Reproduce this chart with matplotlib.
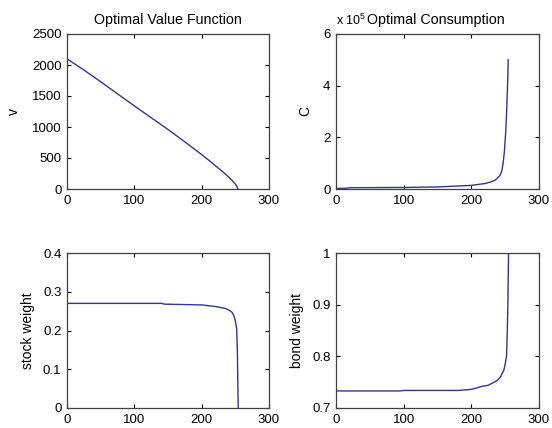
import numpy as np
import matplotlib
matplotlib.use("Agg")
import matplotlib.pyplot as plt
from matplotlib.ticker import FuncFormatter

plt.rcParams['font.family'] = ['Liberation Sans', 'DejaVu Sans']
plt.rcParams['mathtext.fontset'] = 'custom'
plt.rcParams['mathtext.rm'] = 'Liberation Sans'

# Optimal value function
v_x = [0, 25, 50, 75, 100, 125, 150, 175, 200, 215, 230, 240, 245, 250, 252, 254]
v_y = [2100, 1920, 1730, 1535, 1340, 1150, 960, 760, 555, 425, 290, 195, 140, 80, 45, 0]

# Optimal consumption
c_x = [0, 15, 20, 60, 100, 150, 200, 220, 227, 235, 242, 245, 247, 249, 251, 252, 253, 254, 254.5]
c_y = [0.02e5, 0.03e5, 0.05e5, 0.055e5, 0.06e5, 0.08e5, 0.14e5, 0.21e5, 0.26e5, 0.34e5,
       0.51e5, 0.7e5, 1.0e5, 1.5e5, 2.3e5, 2.9e5, 3.6e5, 4.4e5, 5.0e5]

# Stock weight
s_x = [0, 140, 145, 200, 210, 220, 235, 240, 245, 248, 250, 252, 253, 253.5, 254, 254.3]
s_y = [0.270, 0.270, 0.268, 0.266, 0.264, 0.262, 0.257, 0.253, 0.247, 0.238, 0.225, 0.204,
       0.15, 0.088, 0.03, 0.0]

# Bond weight
b_x = [0, 95, 100, 180, 200, 216, 225, 238, 243, 248, 250, 252, 253, 254, 254.5, 255]
b_y = [0.733, 0.733, 0.734, 0.734, 0.736, 0.742, 0.744, 0.753, 0.760, 0.773, 0.785, 0.80,
       0.84, 0.90, 0.95, 1.0]

LINE = '#34348f'
AX = '#404040'

fig = plt.figure(figsize=(5.52, 4.28), dpi=100)
W, H = 552, 428

def mkax(l, t, r, b):
    return fig.add_axes([l / W, 1 - b / H, (r - l) / W, (b - t) / H])

ax1 = mkax(67, 34, 269, 189)
ax2 = mkax(336, 34, 539, 189)
ax3 = mkax(67, 253, 269, 408)
ax4 = mkax(336, 253, 539, 408)

FS = 9.5
TFS = 10.3
LFS = 10
for ax in (ax1, ax2, ax3, ax4):
    ax.tick_params(direction='in', top=True, right=True, length=3, width=0.8,
                   labelsize=FS, colors='black', pad=4)
    for sp in ax.spines.values():
        sp.set_color(AX)
        sp.set_linewidth(0.9)
    ax.set_xlim(0, 300)
    ax.set_xticks([0, 100, 200, 300])

ax1.plot(v_x, v_y, color=LINE, lw=1.0)
ax1.set_ylim(0, 2500)
ax1.set_yticks([0, 500, 1000, 1500, 2000, 2500])
ax1.set_title('Optimal Value Function', fontsize=TFS, pad=7)
ax1.set_ylabel('v', fontsize=LFS, labelpad=8)

ax2.plot(c_x, c_y, color=LINE, lw=1.0)
ax2.set_ylim(0, 6e5)
ax2.set_yticks([0, 2e5, 4e5, 6e5])
ax2.yaxis.set_major_formatter(FuncFormatter(lambda val, pos: '%g' % (val / 1e5)))
ax2.set_title('Optimal Consumption', fontsize=TFS, pad=7, x=0.49)
ax2.set_ylabel('C', fontsize=LFS, labelpad=8)
ax2.text(0.0, 1.04, r'x 10$^{5}$', transform=ax2.transAxes, fontsize=9,
         ha='left', va='bottom')

ax3.plot(s_x, s_y, color=LINE, lw=1.0)
ax3.set_ylim(0, 0.4)
ax3.set_yticks([0, 0.1, 0.2, 0.3, 0.4])
ax3.yaxis.set_major_formatter(FuncFormatter(lambda val, pos: '%g' % round(val, 2)))
ax3.set_ylabel('stock weight', fontsize=LFS, labelpad=6)

ax4.plot(b_x, b_y, color=LINE, lw=1.0)
ax4.set_ylim(0.7, 1.0)
ax4.set_yticks([0.7, 0.8, 0.9, 1.0])
ax4.yaxis.set_major_formatter(FuncFormatter(lambda val, pos: '%g' % round(val, 2)))
ax4.set_ylabel('bond weight', fontsize=LFS, labelpad=6)

fig.savefig('out.png', dpi=100)
